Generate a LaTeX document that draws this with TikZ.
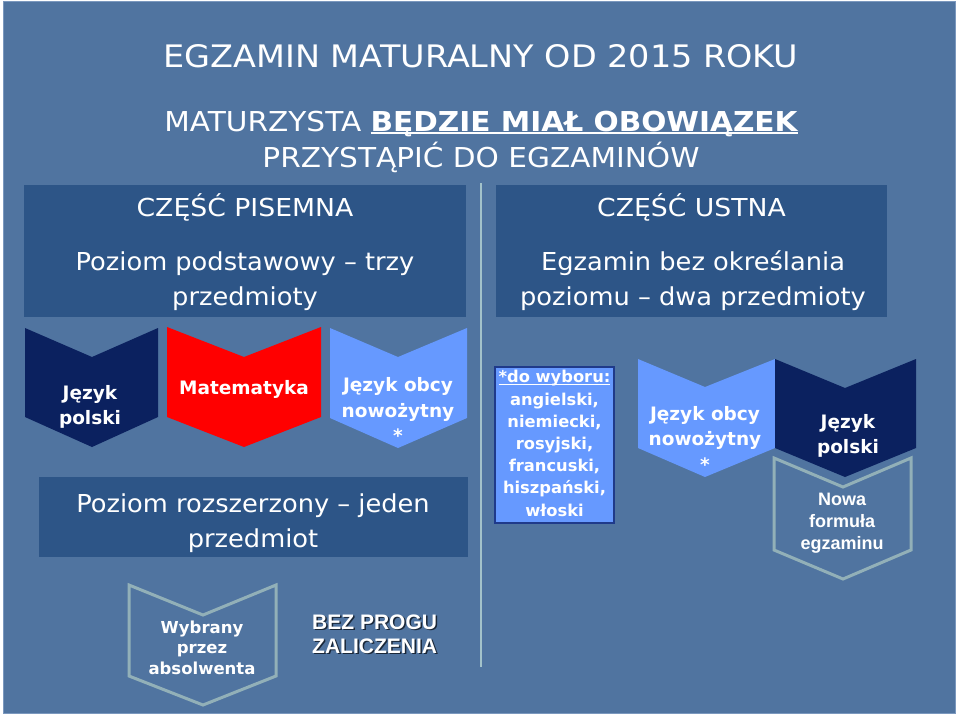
\documentclass[tikz,border=0pt]{standalone}
\usepackage{fontspec}
\setmainfont{DejaVu Sans}
\newfontfamily\fT{DejaVu Sans}[FakeStretch=1.08]
\newfontfamily\fR{DejaVu Sans}[FakeStretch=1.04]
\newfontfamily\fB{DejaVu Sans}
\newfontfamily\fA{Liberation Sans}
\newcommand\myul[1]{\setbox0\hbox{#1}\rlap{\rule[-0.12em]{\wd0}{0.075em}}\box0}
\definecolor{bgc}{HTML}{5074A0}
\definecolor{framec}{HTML}{7B98BE}
\definecolor{boxc}{HTML}{2D5587}
\definecolor{navy}{HTML}{0B215F}
\definecolor{redc}{HTML}{FF0000}
\definecolor{lblue}{HTML}{6699FF}
\definecolor{wybb}{HTML}{1F3A8A}
\definecolor{outl}{HTML}{92B0B8}
\definecolor{divc}{HTML}{A3C2CA}
\definecolor{shadowc}{HTML}{1A2738}
\begin{document}
\begin{tikzpicture}[x=1pt,y=-1pt,
  txt/.style={text=white, inner sep=0pt, align=center},
  boxs/.style={fill=boxc, inner sep=0pt, anchor=north west},
  outline/.style={draw=outl, line width=3pt, line join=miter},
  divider/.style={draw=divc, line width=1.6pt}]
\useasboundingbox (0,0) rectangle (960,716);
\fill[white] (0,0) rectangle (960,716);
\draw[fill=bgc, draw=framec, line width=1pt] (3,1) rectangle (955,713);

% titles
\node[txt, anchor=base, font=\fT\fontsize{31}{36}\selectfont] (title) at (481,67) {EGZAMIN MATURALNY OD 2015 ROKU};
\node[txt, font=\fT\fontsize{27.4}{35}\selectfont] (sub) at (481,142.5)
  {\strut MATURZYSTA \myul{\bfseries BĘDZIE MIAŁ OBOWIĄZEK}\\\strut PRZYSTĄPIĆ DO EGZAMINÓW};

% divider
\coordinate (dtop) at (481,183);
\coordinate (dbot) at (481,667);
\draw[divider] (dtop) -- (dbot);

% upper boxes
\node[boxs, minimum width=442pt, minimum height=132pt] (pisemna) at (24,185) {};
\node[boxs, minimum width=391pt, minimum height=132pt] (ustna) at (496,185) {};
\node[txt, anchor=base, font=\fT\fontsize{24.7}{35}\selectfont] (pisT) at (245,216) {CZĘŚĆ PISEMNA};
\node[txt, font=\fR\fontsize{24.7}{35}\selectfont] (pisB) at (245,280.5) {\strut Poziom podstawowy – trzy\\\strut przedmioty};
\node[txt, anchor=base, font=\fT\fontsize{24.7}{35}\selectfont] (ustT) at (691.5,216) {CZĘŚĆ USTNA};
\node[txt, font=\fR\fontsize{24.7}{35}\selectfont] (ustB) at (693,280.5) {\strut Egzamin bez określania\\\strut poziomu – dwa przedmioty};

% left chevrons
\fill[navy] (25,328) -- (92,357) -- (158,328) -- (158,417) -- (92,447) -- (25,417) -- cycle;
\fill[redc] (167,327) -- (244,357) -- (321,327) -- (321,417) -- (244,447) -- (167,417) -- cycle;
\fill[lblue] (330,328) -- (398,357) -- (467,328) -- (467,418) -- (398,448) -- (330,418) -- cycle;
\node[txt, font=\fB\bfseries\fontsize{18.5}{25}\selectfont] (polL) at (90,406.5) {\strut Język\\\strut polski};
\node[txt, anchor=base, font=\fB\bfseries\fontsize{18.5}{25}\selectfont] (mat) at (244,394) {Matematyka};
\node[txt, font=\fB\bfseries\fontsize{18.5}{25.5}\selectfont] (obcL) at (398,412.1) {\strut Język obcy\\\strut nowożytny\\\strut *};

% extended level box
\node[boxs, minimum width=429pt, minimum height=80pt] (rozsz) at (39,477) {};
\node[txt, font=\fR\fontsize{24.7}{35}\selectfont] (rozszT) at (253,522.5) {\strut Poziom rozszerzony – jeden\\\strut przedmiot};

% languages box
\node[draw=wybb, line width=1.5pt, fill=lblue, minimum width=119pt, minimum height=156pt, inner sep=0pt,
  text=white, align=center, font=\fB\bfseries\fontsize{16.3}{22.2}\selectfont] (wyb) at (554.5,445)
  {\strut\myul{*do wyboru:}\\\strut angielski,\\\strut niemiecki,\\\strut rosyjski,\\\strut francuski,\\\strut hiszpański,\\\strut włoski};

% right chevrons
\draw[outline] (774,458) -- (843,487) -- (911,458) -- (911,550) -- (843,579) -- (774,550) -- cycle;
\fill[lblue] (638,359) -- (705,387) -- (775,359) -- (775,448) -- (705,477) -- (638,448) -- cycle;
\fill[navy] (775,359) -- (845,388) -- (916,359) -- (916,448) -- (845,477) -- (775,448) -- cycle;
\node[txt, font=\fB\bfseries\fontsize{18.5}{25.5}\selectfont] (obcR) at (705,440.4) {\strut Język obcy\\\strut nowożytny\\\strut *};
\node[txt, font=\fB\bfseries\fontsize{18.5}{25}\selectfont] (polR) at (848,435.5) {\strut Język\\\strut polski};
\node[txt, font=\fA\bfseries\fontsize{18}{22}\selectfont] (nowa) at (842,522.6) {\strut Nowa\\\strut formuła\\\strut egzaminu};

% bottom
\draw[outline] (129,585) -- (203,615) -- (276,585) -- (276,676) -- (203,705) -- (129,676) -- cycle;
\node[txt, font=\fB\bfseries\fontsize{16.5}{20.5}\selectfont] (wybr) at (202,649.4) {\strut Wybrany\\\strut przez\\\strut absolwenta};
\node[txt, text=shadowc, anchor=west, align=left, font=\fA\bfseries\fontsize{21}{24}\selectfont] (progS) at (313.5,637.7) {\strut BEZ PROGU\\\strut ZALICZENIA};
\node[txt, anchor=west, align=left, font=\fA\bfseries\fontsize{21}{24}\selectfont] (prog) at (312,636.2) {\strut BEZ PROGU\\\strut ZALICZENIA};
\end{tikzpicture}
\end{document}
